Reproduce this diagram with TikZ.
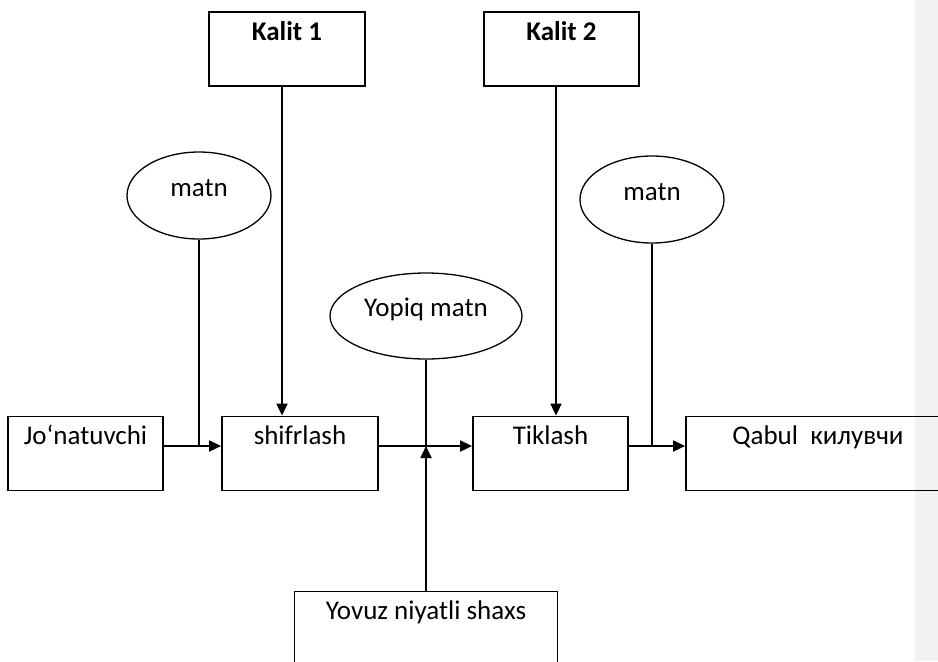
\documentclass[tikz,border=0pt]{standalone}
\usepackage{fontspec}
\setmainfont{Carlito}
\usepackage{tikz}
\usetikzlibrary{arrows.meta,shapes.geometric}
\definecolor{hoshiya}{HTML}{F2F2F2}

\begin{document}
\begin{tikzpicture}[x=0.5pt,y=-0.5pt,font=\fontsize{13.5}{16}\selectfont,
      blok/.style={draw,line width=0.9pt,minimum height=37pt,text height=6pt,text depth=15pt},
      oval/.style={draw,ellipse,line width=0.65pt,inner sep=0pt,minimum width=72pt,minimum height=43.5pt,text height=6pt,text depth=5pt},
      oqim/.style={-{Triangle[length=6pt,width=5.5pt]},line width=0.9pt}]
              \useasboundingbox (0,0) rectangle (938,661);
              \clip (0,0) rectangle (938,661);
              \fill[hoshiya](915,0)rectangle(938,661);
              \node[blok,minimum width=78pt](k1)at(287,49){\textbf{Kalit 1}};
              \node[blok,minimum width=77.5pt](k2)at(561.5,49){\textbf{Kalit 2}};
              \node[oval](m1)at(199,195.5){matn};
              \node[oval](m2)at(652,199.5){matn};
              \node[oval,minimum width=96pt,minimum height=43pt,text depth=6pt](ym)at(426,316){Yopiq matn};
              \node[blok,minimum width=77.5pt](jo)at(85.5,453.5){Jo‘natuvchi};
              \node[blok,minimum width=78pt](sh)at(300,453.5){shifrlash};
              \node[blok,minimum width=77.5pt](ti)at(550.5,453.5){Tiklash};
              \node[blok,minimum width=132pt](qa)at(818,453.5){Qabul\ \ килувчи};
              \node[blok,minimum width=131.5pt](yv)at(426,628.5){Yovuz niyatli shaxs};
              \coordinate(j1)at(199,446);
              \coordinate(j2)at(426,446);
              \coordinate(j3)at(652,446);
              \draw[oqim](jo.east|-j1)--(sh.west|-j1);
              \draw[oqim](sh.east|-j2)--(ti.west|-j2);
              \draw[oqim](ti.east|-j3)--(qa.west|-j3);
              \draw[line width=0.65pt](m1.south)--(j1);
              \draw[line width=0.65pt](m2.south)--(j3);
              \draw[line width=0.65pt](ym.south)--(j2);
              \draw[oqim](yv.north)--(j2);
              \draw[oqim]([xshift=-2.5pt]k1.south)--([xshift=-2.5pt]k1.south|-sh.north);
              \draw[oqim]([xshift=-2.75pt]k2.south)--([xshift=-2.75pt]k2.south|-ti.north);
            \end{tikzpicture}
\end{document}
